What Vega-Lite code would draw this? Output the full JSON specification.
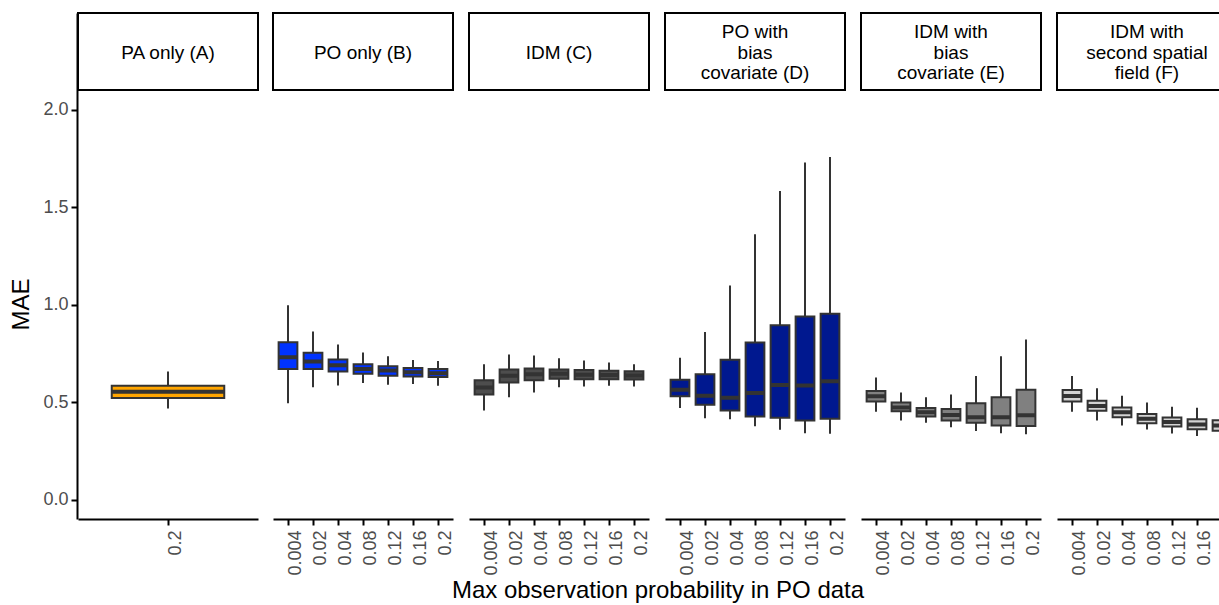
{
  "$schema": "https://vega.github.io/schema/vega-lite/v6.json",
  "padding": {"left": 9, "top": 12, "right": 0, "bottom": 0},
  "background": "white",
  "data": {"values": [
    {"kind": "strip", "panel": "A", "l1": "", "l2": "PA only (A)", "l3": ""},
    {"kind": "strip", "panel": "B", "l1": "", "l2": "PO only (B)", "l3": ""},
    {"kind": "strip", "panel": "C", "l1": "", "l2": "IDM (C)", "l3": ""},
    {"kind": "strip", "panel": "D", "l1": "PO with", "l2": "bias", "l3": "covariate (D)"},
    {"kind": "strip", "panel": "E", "l1": "IDM with", "l2": "bias", "l3": "covariate (E)"},
    {"kind": "strip", "panel": "F", "l1": "IDM with", "l2": "second spatial", "l3": "field (F)"},
    {"kind": "box", "panel": "A", "prob": "0.2", "lo": 0.467, "q1": 0.520, "med": 0.552, "q3": 0.583, "hi": 0.657},
    {"kind": "box", "panel": "B", "prob": "0.004", "lo": 0.494, "q1": 0.669, "med": 0.730, "q3": 0.807, "hi": 0.996},
    {"kind": "box", "panel": "B", "prob": "0.02", "lo": 0.576, "q1": 0.669, "med": 0.708, "q3": 0.753, "hi": 0.861},
    {"kind": "box", "panel": "B", "prob": "0.04", "lo": 0.585, "q1": 0.657, "med": 0.688, "q3": 0.718, "hi": 0.795},
    {"kind": "box", "panel": "B", "prob": "0.08", "lo": 0.597, "q1": 0.645, "med": 0.669, "q3": 0.694, "hi": 0.754},
    {"kind": "box", "panel": "B", "prob": "0.12", "lo": 0.589, "q1": 0.635, "med": 0.662, "q3": 0.683, "hi": 0.735},
    {"kind": "box", "panel": "B", "prob": "0.16", "lo": 0.592, "q1": 0.631, "med": 0.652, "q3": 0.674, "hi": 0.715},
    {"kind": "box", "panel": "B", "prob": "0.2", "lo": 0.584, "q1": 0.628, "med": 0.648, "q3": 0.669, "hi": 0.710},
    {"kind": "box", "panel": "C", "prob": "0.004", "lo": 0.457, "q1": 0.539, "med": 0.575, "q3": 0.611, "hi": 0.693},
    {"kind": "box", "panel": "C", "prob": "0.02", "lo": 0.525, "q1": 0.600, "med": 0.635, "q3": 0.667, "hi": 0.743},
    {"kind": "box", "panel": "C", "prob": "0.04", "lo": 0.549, "q1": 0.612, "med": 0.642, "q3": 0.672, "hi": 0.739},
    {"kind": "box", "panel": "C", "prob": "0.08", "lo": 0.576, "q1": 0.619, "med": 0.645, "q3": 0.667, "hi": 0.724},
    {"kind": "box", "panel": "C", "prob": "0.12", "lo": 0.580, "q1": 0.617, "med": 0.640, "q3": 0.664, "hi": 0.713},
    {"kind": "box", "panel": "C", "prob": "0.16", "lo": 0.583, "q1": 0.617, "med": 0.638, "q3": 0.660, "hi": 0.703},
    {"kind": "box", "panel": "C", "prob": "0.2", "lo": 0.580, "q1": 0.616, "med": 0.636, "q3": 0.658, "hi": 0.694},
    {"kind": "box", "panel": "D", "prob": "0.004", "lo": 0.469, "q1": 0.530, "med": 0.563, "q3": 0.614, "hi": 0.727},
    {"kind": "box", "panel": "D", "prob": "0.02", "lo": 0.417, "q1": 0.486, "med": 0.532, "q3": 0.642, "hi": 0.859},
    {"kind": "box", "panel": "D", "prob": "0.04", "lo": 0.411, "q1": 0.457, "med": 0.522, "q3": 0.717, "hi": 1.098},
    {"kind": "box", "panel": "D", "prob": "0.08", "lo": 0.376, "q1": 0.426, "med": 0.546, "q3": 0.805, "hi": 1.360},
    {"kind": "box", "panel": "D", "prob": "0.12", "lo": 0.358, "q1": 0.419, "med": 0.587, "q3": 0.893, "hi": 1.582},
    {"kind": "box", "panel": "D", "prob": "0.16", "lo": 0.340, "q1": 0.405, "med": 0.585, "q3": 0.938, "hi": 1.728},
    {"kind": "box", "panel": "D", "prob": "0.2", "lo": 0.337, "q1": 0.414, "med": 0.606, "q3": 0.953, "hi": 1.757},
    {"kind": "box", "panel": "E", "prob": "0.004", "lo": 0.450, "q1": 0.503, "med": 0.529, "q3": 0.556, "hi": 0.626},
    {"kind": "box", "panel": "E", "prob": "0.02", "lo": 0.405, "q1": 0.452, "med": 0.472, "q3": 0.497, "hi": 0.549},
    {"kind": "box", "panel": "E", "prob": "0.04", "lo": 0.394, "q1": 0.426, "med": 0.448, "q3": 0.469, "hi": 0.524},
    {"kind": "box", "panel": "E", "prob": "0.08", "lo": 0.370, "q1": 0.405, "med": 0.434, "q3": 0.464, "hi": 0.538},
    {"kind": "box", "panel": "E", "prob": "0.12", "lo": 0.351, "q1": 0.394, "med": 0.422, "q3": 0.493, "hi": 0.633},
    {"kind": "box", "panel": "E", "prob": "0.16", "lo": 0.340, "q1": 0.380, "med": 0.422, "q3": 0.525, "hi": 0.735},
    {"kind": "box", "panel": "E", "prob": "0.2", "lo": 0.335, "q1": 0.377, "med": 0.432, "q3": 0.563, "hi": 0.820},
    {"kind": "box", "panel": "F", "prob": "0.004", "lo": 0.450, "q1": 0.502, "med": 0.531, "q3": 0.561, "hi": 0.633},
    {"kind": "box", "panel": "F", "prob": "0.02", "lo": 0.405, "q1": 0.455, "med": 0.480, "q3": 0.506, "hi": 0.571},
    {"kind": "box", "panel": "F", "prob": "0.04", "lo": 0.380, "q1": 0.422, "med": 0.448, "q3": 0.472, "hi": 0.532},
    {"kind": "box", "panel": "F", "prob": "0.08", "lo": 0.359, "q1": 0.391, "med": 0.414, "q3": 0.439, "hi": 0.497},
    {"kind": "box", "panel": "F", "prob": "0.12", "lo": 0.339, "q1": 0.374, "med": 0.398, "q3": 0.421, "hi": 0.476},
    {"kind": "box", "panel": "F", "prob": "0.16", "lo": 0.326, "q1": 0.360, "med": 0.385, "q3": 0.411, "hi": 0.471},
    {"kind": "box", "panel": "F", "prob": "0.2", "lo": 0.317, "q1": 0.353, "med": 0.380, "q3": 0.407, "hi": 0.471}
  ]},
  "facet": {
    "column": {
      "field": "panel", "type": "nominal", "sort": ["A", "B", "C", "D", "E", "F"],
      "header": {
        "labels": false,
        "title": "Max observation probability in PO data",
        "titleOrient": "bottom",
        "titleFont": "Liberation Sans",
        "titleFontSize": 24,
        "titleFontWeight": "normal",
        "titleColor": "black",
        "titlePadding": -7
      }
    }
  },
  "spacing": 13,
  "resolve": {"scale": {"x": "independent"}},
  "spec": {
    "width": 180,
    "height": 506,
    "layer": [
      {
        "transform": [{"filter": "datum.kind === 'strip'"}],
        "mark": {"type": "rect", "fill": "white", "stroke": "black", "strokeWidth": 2},
        "encoding": {
          "y": {"datum": 2.1, "type": "quantitative", "title": "MAE",
                "scale": {"domain": [-0.1, 2.495], "nice": false, "zero": false},
                "axis": {"values": [0, 0.5, 1, 1.5, 2], "format": ".1f", "titleY": 291}},
          "y2": {"datum": 2.495}
        }
      },
      {
        "transform": [{"filter": "datum.kind === 'strip'"}],
        "mark": {"type": "text", "font": "Liberation Sans", "fontSize": 19, "color": "black", "align": "center", "baseline": "middle"},
        "encoding": {
          "y": {"datum": 2.395, "type": "quantitative", "title": "MAE",
                "axis": {"values": [0, 0.5, 1, 1.5, 2], "format": ".1f", "titleY": 291}},
          "text": {"field": "l1", "type": "nominal"}
        }
      },
      {
        "transform": [{"filter": "datum.kind === 'strip'"}],
        "mark": {"type": "text", "font": "Liberation Sans", "fontSize": 19, "color": "black", "align": "center", "baseline": "middle"},
        "encoding": {
          "y": {"datum": 2.29, "type": "quantitative", "title": "MAE",
                "axis": {"values": [0, 0.5, 1, 1.5, 2], "format": ".1f", "titleY": 291}},
          "text": {"field": "l2", "type": "nominal"}
        }
      },
      {
        "transform": [{"filter": "datum.kind === 'strip'"}],
        "mark": {"type": "text", "font": "Liberation Sans", "fontSize": 19, "color": "black", "align": "center", "baseline": "middle"},
        "encoding": {
          "y": {"datum": 2.185, "type": "quantitative", "title": "MAE",
                "axis": {"values": [0, 0.5, 1, 1.5, 2], "format": ".1f", "titleY": 291}},
          "text": {"field": "l3", "type": "nominal"}
        }
      },
      {
        "transform": [{"filter": "datum.kind === 'box'"}],
        "mark": {"type": "rule", "color": "#333333", "strokeWidth": 2},
        "encoding": {
          "x": {"field": "prob", "type": "nominal", "title": null,
                "sort": ["0.004", "0.02", "0.04", "0.08", "0.12", "0.16", "0.2"],
                "scale": {"paddingInner": 0.25, "paddingOuter": 0.225}},
          "y": {"field": "lo", "type": "quantitative", "title": "MAE",
                "axis": {"values": [0, 0.5, 1, 1.5, 2], "format": ".1f", "titleY": 291}},
          "y2": {"field": "hi"}
        }
      },
      {
        "transform": [{"filter": "datum.kind === 'box'"}],
        "mark": {"type": "bar", "stroke": "#333333", "strokeWidth": 2},
        "encoding": {
          "x": {"field": "prob", "type": "nominal", "title": null,
                "sort": ["0.004", "0.02", "0.04", "0.08", "0.12", "0.16", "0.2"]},
          "y": {"field": "q1", "type": "quantitative", "title": "MAE",
                "axis": {"values": [0, 0.5, 1, 1.5, 2], "format": ".1f", "titleY": 291}},
          "y2": {"field": "q3"},
          "fill": {"field": "panel", "type": "nominal", "legend": null,
                   "scale": {"domain": ["A", "B", "C", "D", "E", "F"],
                             "range": ["#FFA500", "#0033FF", "#4D4D4D", "#00188F", "#808080", "#D3D3D3"]}}
        }
      },
      {
        "transform": [{"filter": "datum.kind === 'box'"}],
        "mark": {"type": "bar", "fill": "#333333", "stroke": "#333333", "strokeWidth": 4},
        "encoding": {
          "x": {"field": "prob", "type": "nominal", "title": null,
                "sort": ["0.004", "0.02", "0.04", "0.08", "0.12", "0.16", "0.2"]},
          "y": {"field": "med", "type": "quantitative", "title": "MAE",
                "axis": {"values": [0, 0.5, 1, 1.5, 2], "format": ".1f", "titleY": 291}},
          "y2": {"field": "med"}
        }
      }
    ]
  },
  "config": {
    "view": {"stroke": null},
    "font": "Liberation Sans",
    "axis": {
      "grid": false,
      "domainColor": "black",
      "domainWidth": 2,
      "tickColor": "black",
      "tickWidth": 2,
      "tickSize": 6,
      "labelFont": "Liberation Sans",
      "labelFontSize": 18,
      "labelColor": "#4D4D4D",
      "titleFont": "Liberation Sans",
      "titleFontSize": 24,
      "titleFontWeight": "normal",
      "titleColor": "black"
    },
    "axisX": {"labelAngle": 270, "labelAlign": "right", "labelBaseline": "top", "labelPadding": 5, "labelOffset": -1},
    "axisY": {"labelPadding": 3, "titlePadding": 9}
  }
}
